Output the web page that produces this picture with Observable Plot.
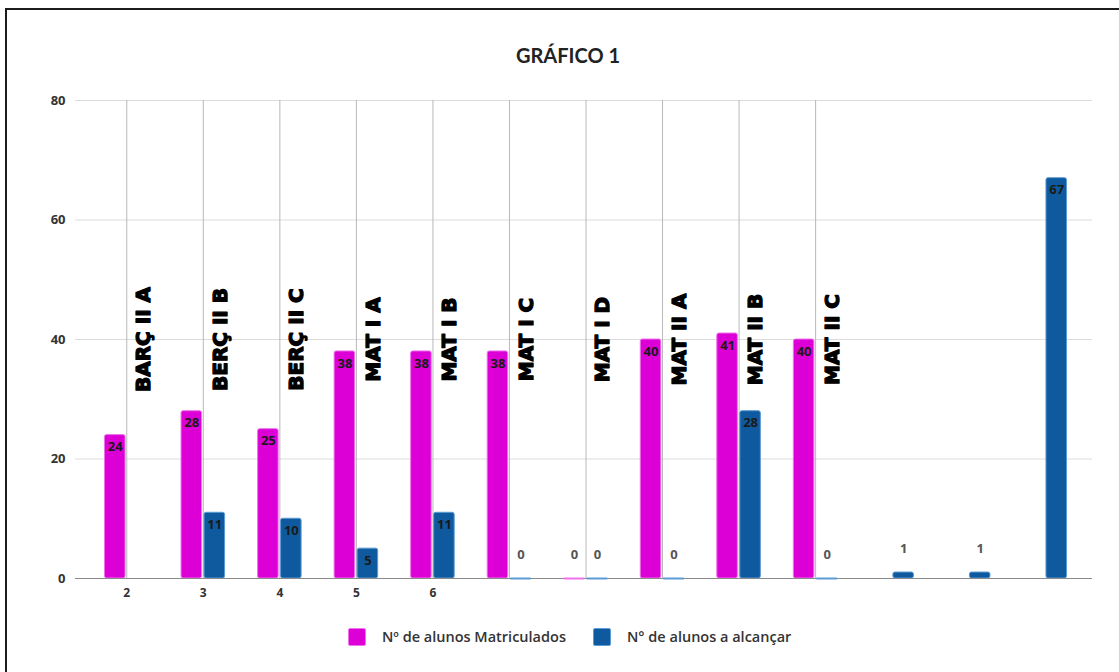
<!DOCTYPE html>
<html>
<head>
<meta charset="utf-8">
<script src="https://cdn.jsdelivr.net/npm/d3@7"></script>
<script src="https://cdn.jsdelivr.net/npm/@observablehq/plot@0.6"></script>
<style>
  html, body { margin: 0; padding: 0; background: #fff; overflow: hidden; }
  body { width: 1119px; height: 672px; position: relative; }
  #frame { position: absolute; left: 5px; top: 8px; width: 1200px; height: 800px; border: 2px solid #1c1c1c; box-sizing: border-box; }
  #title { position: absolute; left: 0; top: 43px; width: 1136px; text-align: center; font: bold 20px Lato, "Open Sans", sans-serif; color: #222; line-height: 24px; }
  #chart { position: absolute; left: 0; top: 0; }
  .leg { position: absolute; top: 627px; height: 19px; display: flex; align-items: center; font: 600 14.5px "Open Sans", sans-serif; color: #333; }
  .sw { width: 18px; height: 18px; border-radius: 2px; box-sizing: border-box; margin-right: 16px; }
</style>
</head>
<body>
<div id="frame"></div>
<div id="title"></div>
<div id="chart"></div>
<div id="legend"></div>
<script>
const title = "GRÁFICO 1";
const classes = ["BARÇ II A","BERÇ II B","BERÇ II C","MAT I A","MAT I B","MAT I C","MAT I D","MAT II A","MAT II B","MAT II C","","",""];
const tickLabels = ["2","3","4","5","6","","","","","","","",""];
const matriculados = [24,28,25,38,38,38,0,40,41,40,null,null,null];
const alcancar = [null,11,10,5,11,0,0,0,28,0,1,1,67];
const seriesNames = ["Nº de alunos Matriculados","N° de alunos a alcançar"];
const yTicks = [0,20,40,60,80];

const pink = "#dc00d6", pinkLight = "#f070ec";
const blue = "#0f5a9e", blueLight = "#5b9bd5";

document.getElementById("title").textContent = title;

const idx = d3.range(classes.length);
const mat = idx.filter(i => matriculados[i] != null).map(i => ({i, v: matriculados[i]}));
const alc = idx.filter(i => alcancar[i] != null).map(i => ({i, v: alcancar[i]}));
const named = idx.filter(i => classes[i] !== "");

const labelOpts = (arr, dx) => [
  Plot.text(arr.filter(d => d.v > 1), {x: "i", y: "v", text: d => String(d.v), dx, dy: 12, fill: "#1a1a1a", fontWeight: "bold", fontSize: 13}),
  Plot.text(arr.filter(d => d.v <= 1), {x: "i", y: "v", text: d => String(d.v), dx, dy: -24, fill: "#555", fontWeight: "bold", fontSize: 13})
];

const chart = Plot.plot({
  width: 1119,
  height: 610,
  marginTop: 100,
  marginBottom: 32,
  marginLeft: 88,
  marginRight: 36,
  style: {fontFamily: "'Open Sans', sans-serif", fontSize: "13px", background: "transparent"},
  x: {type: "band", domain: idx, padding: 0, round: false, axis: null},
  y: {domain: [0, 80], axis: null},
  marks: [
    Plot.ruleY(yTicks.filter(t => t > 0), {stroke: "#dcdcdc", strokeWidth: 1, insetLeft: -13, insetRight: -9}),
    Plot.ruleX(named, {x: d => d, stroke: "#b8b8b8", strokeWidth: 1}),
    Plot.barY(mat.filter(d => d.v > 0), {x: "i", y: "v", fill: pink, stroke: pinkLight, strokeWidth: 1, insetLeft: 16.5, insetRight: 39.5, rx: 2}),
    Plot.barY(alc.filter(d => d.v > 0), {x: "i", y: "v", fill: blue, stroke: blueLight, strokeWidth: 1, insetLeft: 39.5, insetRight: 16.5, rx: 2}),
    Plot.ruleY([0], {stroke: "#8a8a8a", strokeWidth: 1.2, insetLeft: -13, insetRight: -9}),
    Plot.tickY(mat.filter(d => d.v === 0), {x: "i", y: "v", stroke: pinkLight, strokeWidth: 2, insetLeft: 16.5, insetRight: 39.5}),
    Plot.tickY(alc.filter(d => d.v === 0), {x: "i", y: "v", stroke: blueLight, strokeWidth: 2, insetLeft: 39.5, insetRight: 16.5}),
    ...labelOpts(mat, -11.5),
    ...labelOpts(alc, 11.5),
    Plot.text(named, {x: d => d, y: () => 40, text: d => classes[d], rotate: -90, dx: 17, fill: "#000", stroke: "#000", strokeWidth: 1.3, fontFamily: "DejaVu Sans", fontWeight: "bold", fontSize: 20}),
    Plot.axisY(yTicks, {tickSize: 0, tickPadding: 23, fontWeight: "bold", fontSize: 13, fill: "#333", label: null}),
    Plot.axisX(idx, {tickSize: 0, tickPadding: 10, tickFormat: i => tickLabels[i], fontWeight: "bold", fontSize: 12, fill: "#333", label: null})
  ]
});
document.getElementById("chart").appendChild(chart);

const legend = document.getElementById("legend");
const legPos = [348, 593];
const legColors = [[pink, pinkLight], [blue, blueLight]];
seriesNames.forEach((name, k) => {
  const item = document.createElement("div");
  item.className = "leg";
  item.style.left = legPos[k] + "px";
  const sw = document.createElement("div");
  sw.className = "sw";
  sw.style.background = legColors[k][0];
  sw.style.border = "1px solid " + legColors[k][1];
  const t = document.createElement("span");
  t.textContent = name;
  item.appendChild(sw);
  item.appendChild(t);
  legend.appendChild(item);
});
</script>
</body>
</html>
